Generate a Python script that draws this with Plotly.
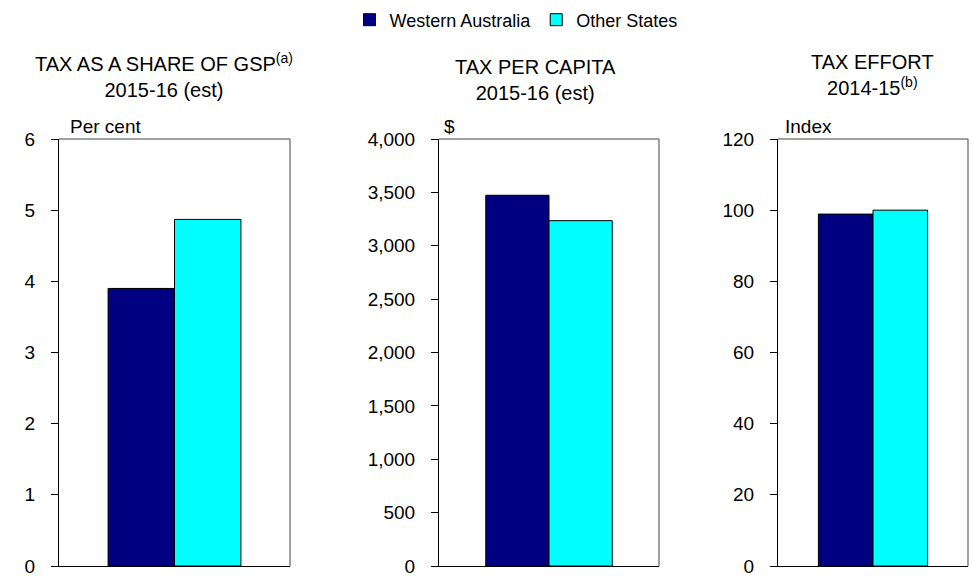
import plotly.graph_objects as go

# Series and values
series = ["Western Australia", "Other States"]
colors = ["#000080", "#00FFFF"]
gsp_share = [3.9, 4.87]        # per cent of GSP, 2015-16 (est)
tax_per_capita = [3473, 3235]  # $ per head, 2015-16 (est)
tax_effort = [98.9, 100.0]     # index, 2014-15

panel_titles = [
    "TAX AS A SHARE OF GSP<sup>(a)</sup><br>2015-16 (est)",
    "TAX PER CAPITA<br>2015-16 (est)",
    "TAX EFFORT<br>2014-15<sup>(b)</sup>",
]
unit_labels = ["Per cent", "$", "Index"]
y_ranges = [[0, 6], [0, 4000], [0, 120]]
y_dticks = [1, 500, 20]
category = [""]

W, H = 972, 576
FONT = "Liberation Sans, Arial, sans-serif"

# Pixel geometry of the three panels
x_px = [(59, 290), (439, 659), (778, 968)]
y_top, y_bot = 139, 566
title_px = [(164, 76), (535, 80), (872, 75.5)]
unit_px = [68, 442, 783]

fig = go.Figure()
panel_values = [gsp_share, tax_per_capita, tax_effort]

for p, vals in enumerate(panel_values):
    sfx = "" if p == 0 else str(p + 1)
    for s, name in enumerate(series):
        fig.add_trace(go.Bar(
            x=category, y=[vals[s]], name=name,
            marker=dict(color=colors[s], line=dict(color="black", width=1)),
            xaxis="x" + sfx, yaxis="y" + sfx,
            showlegend=(p == 0), legendgroup=name,
            hoverinfo="skip",
        ))

    x0, x1 = x_px[p]
    xdom = [x0 / W, x1 / W]
    ydom = [1 - y_bot / H, 1 - y_top / H]
    fig.update_layout(**{
        "xaxis" + sfx: dict(
            domain=xdom, anchor="y" + sfx, type="category", automargin=False,
            range=[-0.5, 0.5], showline=True, linecolor="black", linewidth=1,
            showticklabels=False, ticks="", showgrid=False, zeroline=False,
        ),
        "yaxis" + sfx: dict(
            domain=ydom, anchor="x" + sfx, range=y_ranges[p], dtick=y_dticks[p],
            automargin=False, ticklabeloverflow="allow",
            tickformat=",d", showline=True, linecolor="black", linewidth=1,
            ticks="outside", ticklen=7, tickcolor="black", tickwidth=1,
            ticklabelstandoff=12, showgrid=False, zeroline=False,
            tickfont=dict(family=FONT, size=19, color="black"),
        ),
    })

    # grey top and right frame edges
    xr, yr = "x" + sfx + " domain", "y" + sfx + " domain"
    fig.add_shape(type="line", xref=xr, yref=yr, x0=0, x1=1, y0=1, y1=1,
                  line=dict(color="#808080", width=1.5))
    fig.add_shape(type="line", xref=xr, yref=yr, x0=1, x1=1, y0=0, y1=1,
                  line=dict(color="#808080", width=1.5))

    tx, ty = title_px[p]
    fig.add_annotation(
        text=panel_titles[p], xref="paper", yref="paper",
        x=tx / W, y=1 - ty / H, xanchor="center", yanchor="middle",
        showarrow=False, align="center",
        font=dict(family=FONT, size=20, color="black"),
    )
    fig.add_annotation(
        text=unit_labels[p], xref="paper", yref="paper",
        x=unit_px[p] / W, y=1 - 126 / H, xanchor="left", yanchor="middle",
        showarrow=False, font=dict(family=FONT, size=19, color="black"),
    )

fig.update_layout(
    width=W, height=H,
    margin=dict(l=0, r=0, t=0, b=0, autoexpand=False),
    paper_bgcolor="white", plot_bgcolor="white",
    barmode="group", bargap=0.425, bargroupgap=0,
    showlegend=True,
    legend=dict(
        orientation="h", x=516 / W, xanchor="center", y=1 - 20 / H, yanchor="middle",
        font=dict(family=FONT, size=18, color="black"),
        itemwidth=30, tracegroupgap=0, bgcolor="rgba(0,0,0,0)",
    ),
    font=dict(family=FONT, color="black"),
)

fig.write_html("out.html")
